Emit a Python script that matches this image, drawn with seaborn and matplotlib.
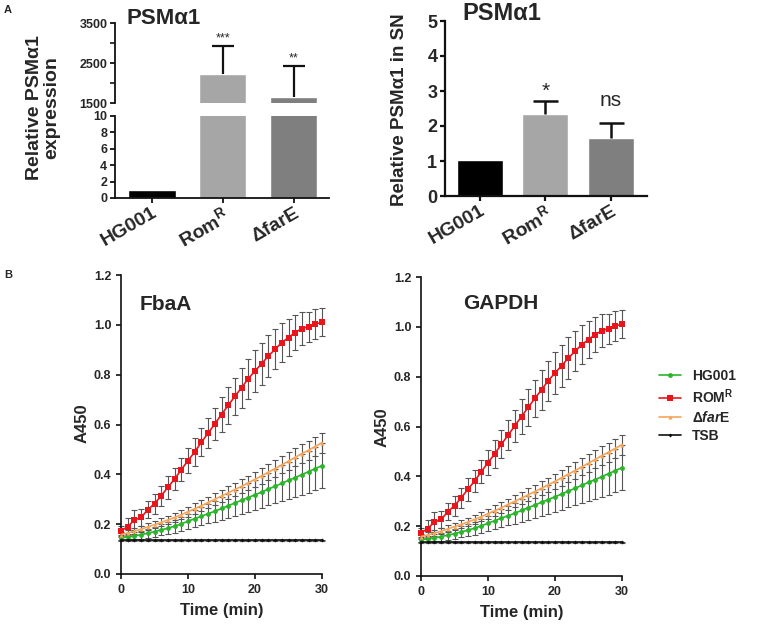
import matplotlib
matplotlib.use("Agg")
import matplotlib.pyplot as plt
import pandas as pd
import seaborn as sns

sns.set_style("ticks")
plt.rcParams["font.family"] = ["Liberation Sans", "DejaVu Sans"]
plt.rcParams["font.weight"] = "bold"
plt.rcParams["mathtext.fontset"] = "custom"
plt.rcParams["mathtext.rm"] = "Liberation Sans:bold"
plt.rcParams["mathtext.it"] = "Liberation Sans:italic:bold"
plt.rcParams["mathtext.bf"] = "Liberation Sans:bold"

# panel A data
strains = ["HG001", "Rom$^{\\mathrm{R}}$", "ΔfarE"]
bar_colors = ["#000000", "#a6a6a6", "#7f7f7f"]
expr_mean = [1.0, 2225, 1650]
expr_err = [0, 700, 775]
expr_sig = ["", "***", "**"]
sn_mean = [1.02, 2.34, 1.66]
sn_err = [0, 0.37, 0.43]
sn_sig = ["", "*", "ns"]

# panel B data
time_min = list(range(31))
hg001 = [0.146, 0.149, 0.153, 0.158, 0.164, 0.170, 0.177, 0.184, 0.192, 0.201, 0.212,
         0.222, 0.232, 0.242, 0.252, 0.263, 0.274, 0.285, 0.296, 0.307, 0.318,
         0.329, 0.341, 0.352, 0.364, 0.376, 0.387, 0.399, 0.411, 0.423, 0.435]
hg001_err = [0.010, 0.012, 0.014, 0.016, 0.018, 0.020, 0.022, 0.024, 0.026, 0.028, 0.030,
             0.033, 0.036, 0.039, 0.042, 0.045, 0.048, 0.051, 0.054, 0.057, 0.060,
             0.063, 0.066, 0.069, 0.072, 0.075, 0.078, 0.081, 0.084, 0.087, 0.090]
romr = [0.173, 0.190, 0.217, 0.227, 0.258, 0.282, 0.314, 0.348, 0.381, 0.419, 0.455,
        0.490, 0.529, 0.565, 0.603, 0.640, 0.677, 0.713, 0.748, 0.784, 0.815,
        0.844, 0.875, 0.902, 0.929, 0.949, 0.969, 0.985, 0.993, 1.003, 1.011]
romr_err = [0.020, 0.035, 0.040, 0.035, 0.035, 0.040, 0.040, 0.045, 0.045, 0.045, 0.050,
            0.055, 0.055, 0.060, 0.065, 0.070, 0.075, 0.075, 0.080, 0.080, 0.085,
            0.085, 0.085, 0.080, 0.080, 0.075, 0.070, 0.065, 0.060, 0.060, 0.056]
farE = [0.158, 0.165, 0.172, 0.180, 0.189, 0.198, 0.207, 0.217, 0.227, 0.238, 0.250,
        0.262, 0.274, 0.287, 0.300, 0.313, 0.326, 0.339, 0.352, 0.366, 0.380,
        0.394, 0.409, 0.423, 0.438, 0.453, 0.468, 0.483, 0.497, 0.512, 0.527]
farE_err = [0.010, 0.011, 0.012, 0.013, 0.014, 0.015, 0.016, 0.017, 0.018, 0.019, 0.020,
            0.021, 0.022, 0.023, 0.024, 0.025, 0.026, 0.027, 0.028, 0.029, 0.030,
            0.031, 0.032, 0.033, 0.034, 0.035, 0.036, 0.037, 0.038, 0.039, 0.040]
tsb = [0.135, 0.135, 0.135, 0.135, 0.135, 0.135, 0.135, 0.135, 0.135, 0.135, 0.135,
       0.135, 0.135, 0.135, 0.135, 0.135, 0.135, 0.135, 0.135, 0.135, 0.135,
       0.135, 0.135, 0.135, 0.135, 0.135, 0.135, 0.135, 0.135, 0.135, 0.135]
tsb_err = [0.002, 0.002, 0.002, 0.002, 0.002, 0.002, 0.002, 0.002, 0.002, 0.002, 0.002,
           0.002, 0.002, 0.002, 0.002, 0.002, 0.002, 0.002, 0.002, 0.002, 0.002,
           0.002, 0.002, 0.002, 0.002, 0.002, 0.002, 0.002, 0.002, 0.002, 0.002]

series = [
    ("HG001", hg001, hg001_err, "#2ab52a", "o", 3.5),
    ("ROM$^{\\mathrm{R}}$", romr, romr_err, "#e8161c", "s", 4),
    ("Δ$\\mathit{far}$E", farE, farE_err, "#f5a55a", "^", 3),
    ("TSB", tsb, tsb_err, "#111111", "D", 2),
]

W, H = 760, 631
fig = plt.figure(figsize=(7.6, 6.31), dpi=100)


def box(x0, y0, x1, y1):
    # pixel box (top-left origin) -> figure fraction
    return [x0 / W, 1 - y1 / H, (x1 - x0) / W, (y1 - y0) / H]


def style_axis(ax, lw=1.2):
    sns.despine(ax=ax)
    for s in ["left", "bottom"]:
        ax.spines[s].set_linewidth(lw)
        ax.spines[s].set_color("#111111")
    ax.tick_params(width=lw, length=3.5, color="#111111")


def up_errorbar(ax, x, y, err, lw, cap):
    # one-sided (upper) error bar, like GraphPad
    _, caps, _ = ax.errorbar(x, y, yerr=[[0], [err]], fmt="none", ecolor="#111111",
                             elinewidth=lw, capsize=cap, capthick=lw)
    caps[0].set_visible(False)


# ---- A left: broken axis ----
ax_hi = fig.add_axes(box(115, 23, 329, 103))
ax_lo = fig.add_axes(box(115, 116, 329, 198))
df_expr = pd.DataFrame({"strain": strains, "value": expr_mean})
for ax in (ax_hi, ax_lo):
    sns.barplot(data=df_expr, x="strain", y="value", hue="strain", palette=bar_colors,
                saturation=1, width=0.67, legend=False, ax=ax)
    ax.set_xlim(-0.52, 2.5)
    ax.set_xlabel("")
    ax.set_ylabel("")
    style_axis(ax, 1.3)

ax_hi.set_ylim(1500, 3500)
ax_hi.set_yticks([1500, 2500, 3500])
ax_hi.set_yticks([2000, 3000], minor=True)
ax_hi.tick_params(axis="y", which="minor", length=3.5, width=1.3)
ax_hi.spines["bottom"].set_visible(False)
ax_hi.tick_params(axis="x", bottom=False, labelbottom=False)
ax_lo.set_ylim(0, 10)
ax_lo.set_yticks([0, 2, 4, 6, 8, 10])
for ax in (ax_hi, ax_lo):
    ax.tick_params(axis="y", labelsize=9, pad=2)
ax_lo.set_xticks(range(3))
ax_lo.set_xticklabels(strains, rotation=30, ha="right", rotation_mode="anchor",
                      fontsize=14, fontweight="bold")
ax_lo.tick_params(axis="x", pad=1)

for i in range(3):
    if expr_err[i] > 0:
        up_errorbar(ax_hi, i, expr_mean[i], expr_err[i], 1.6, 8)
        ax_hi.annotate(expr_sig[i], (i, expr_mean[i] + expr_err[i]),
                       xytext=(0, 1), textcoords="offset points",
                       ha="center", va="bottom", fontsize=9, fontweight="normal")

fig.text(127 / W, 1 - 19 / H, "PSMα1", fontsize=16, fontweight="bold",
         ha="left", va="center")
fig.text(43 / W, 1 - 108 / H, "Relative PSMα1\nexpression", fontsize=14,
         fontweight="bold", rotation=90, ha="center", va="center", linespacing=1.0)

# ---- A right ----
ax_sn = fig.add_axes(box(445, 21, 647, 196))
df_sn = pd.DataFrame({"strain": strains, "value": sn_mean})
sns.barplot(data=df_sn, x="strain", y="value", hue="strain", palette=bar_colors,
            saturation=1, width=0.70, legend=False, ax=ax_sn)
ax_sn.set_xlim(-0.53, 2.55)
ax_sn.set_ylim(0, 5)
ax_sn.set_yticks([0, 1, 2, 3, 4, 5])
ax_sn.set_xlabel("")
ax_sn.set_ylabel("")
style_axis(ax_sn, 1.6)
ax_sn.tick_params(axis="y", labelsize=13, pad=2)
ax_sn.set_xticks(range(3))
ax_sn.set_xticklabels(strains, rotation=30, ha="right", rotation_mode="anchor",
                      fontsize=14, fontweight="bold")
ax_sn.tick_params(axis="x", pad=1)
sig_offset = {"*": 0, "ns": 9}
for i in range(3):
    if sn_err[i] > 0:
        up_errorbar(ax_sn, i, sn_mean[i], sn_err[i], 1.8, 9)
        ax_sn.annotate(sn_sig[i], (i, sn_mean[i] + sn_err[i]),
                       xytext=(0, sig_offset[sn_sig[i]]), textcoords="offset points",
                       ha="center", va="bottom", fontsize=15, fontweight="normal")

fig.text(462 / W, 1 - 14 / H, "PSMα1", fontsize=17, fontweight="bold",
         ha="left", va="center")
fig.text(399 / W, 1 - 110 / H, "Relative PSMα1 in SN", fontsize=13.5,
         fontweight="bold", rotation=90, ha="center", va="center")

# ---- B ----
panels = [
    (box(121, 275, 322, 574), "FbaA", (0.095, 0.90), 82, 221.5, 610, 423),
    (box(421, 277, 622, 576), "GAPDH", (0.21, 0.913), 382, 521.5, 612, 427),
]
for rect, title, tpos, ylx, xlx, xly, yly in panels:
    ax = fig.add_axes(rect)
    for name, mean, err, color, marker, ms in series:
        ax.errorbar(time_min, mean, yerr=err, fmt="none", ecolor="#555555",
                    elinewidth=0.8, capsize=2, capthick=0.8, zorder=2, clip_on=False)
        sns.lineplot(x=time_min, y=mean, color=color, marker=marker, markersize=ms,
                     markeredgewidth=0, linewidth=1.2, label=name, ax=ax,
                     zorder=3, clip_on=False)
    ax.set_xlim(0, 30)
    ax.set_ylim(0, 1.2)
    ax.set_xticks([0, 10, 20, 30])
    ax.set_yticks([0, 0.2, 0.4, 0.6, 0.8, 1.0, 1.2])
    ax.set_yticklabels([f"{v:.1f}" for v in ax.get_yticks()])
    ax.tick_params(labelsize=9)
    style_axis(ax, 1.2)
    ax.set_xlabel("")
    ax.set_ylabel("")
    handles, labels = ax.get_legend_handles_labels()
    ax.get_legend().remove()
    ax.text(tpos[0], tpos[1], title, transform=ax.transAxes, fontsize=15,
            fontweight="bold", ha="left", va="center")
    fig.text(xlx / W, 1 - xly / H, "Time (min)", fontsize=12, fontweight="bold",
             ha="center", va="center")
    fig.text(ylx / W, 1 - yly / H, "A450", fontsize=12, fontweight="bold",
             rotation=90, ha="center", va="center")

fig.legend(handles, labels, loc="upper left", bbox_to_anchor=(652 / W, 1 - 362 / H),
           frameon=False, fontsize=10, handlelength=1.6, handletextpad=0.8,
           labelspacing=0.3, borderpad=0)

fig.text(4 / W, 1 - 10 / H, "A", fontsize=8, fontweight="bold", va="center")
fig.text(4 / W, 1 - 275 / H, "B", fontsize=8, fontweight="bold", va="center")

fig.savefig("out.png", dpi=100)
